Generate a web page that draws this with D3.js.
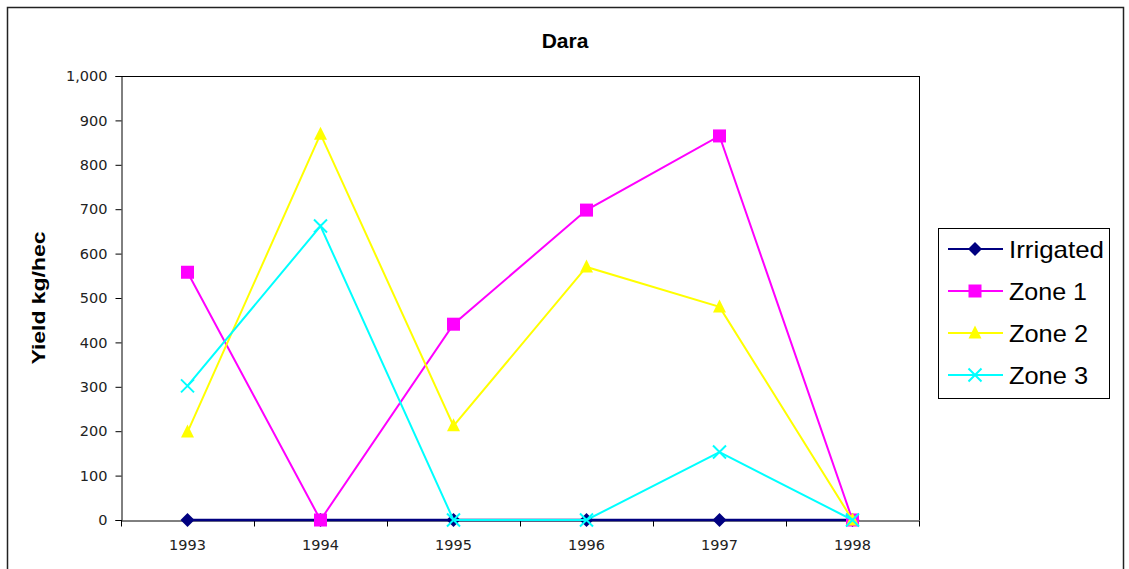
<!DOCTYPE html>
<html><head><meta charset="utf-8">
<script src="https://cdn.jsdelivr.net/npm/d3@7"></script>
<style>body{margin:0;background:#fff}svg{display:block}</style>
</head><body>
<script>
const years = ["1993","1994","1995","1996","1997","1998"];
const irrigated = [0,0,0,0,0,0];
const zone1 = [558,0,441,698,865,0];
const zone2 = [198,869,212,570,480,0];
const zone3 = [302,662,0,0,153,0];
const yTicks = [0,100,200,300,400,500,600,700,800,900,1000];
const seriesNames = ["Irrigated","Zone 1","Zone 2","Zone 3"];
const seriesColors = ["#000080","#FF00FF","#FFFF00","#00FFFF"];
const seriesSymbols = ["diamond","square","triangle","cross"];
const series = [irrigated, zone1, zone2, zone3];

const W=1129,H=569;
const svg=d3.select("body").append("svg").attr("width",W).attr("height",H);
svg.append("rect").attr("x",7.5).attr("y",7.5).attr("width",1116).attr("height",580)
  .attr("fill","#fff").attr("stroke","#222").attr("stroke-width",1.5);

const L=121,R=919,T=76,B=520;
const x=d3.scaleBand().domain(years).range([L,R]);
const y=d3.scaleLinear().domain([0,1000]).range([B,T]);

svg.append("line").attr("x1",L).attr("x2",R).attr("y1",T+0.5).attr("y2",T+0.5).attr("stroke","#000");
svg.append("line").attr("x1",R+0.5).attr("x2",R+0.5).attr("y1",T).attr("y2",B).attr("stroke","#000");

const tickFont="Verdana, 'DejaVu Sans', sans-serif";
const yAxis=svg.append("g").attr("transform",`translate(${L+0.5},0)`)
  .call(d3.axisLeft(y).tickValues(yTicks).tickSize(6).tickPadding(8).tickFormat(d3.format(",")));
yAxis.select(".domain").attr("stroke","#000");
yAxis.selectAll("text").attr("font-family",tickFont).attr("font-size","14.5px").attr("fill","#222");

const xAxis=svg.append("g").attr("transform",`translate(0,${B+0.5})`)
  .call(d3.axisBottom(x).tickSize(0).tickPadding(19));
xAxis.select(".domain").attr("stroke","#000");
xAxis.selectAll("text").attr("font-family",tickFont).attr("font-size","14.5px").attr("fill","#222");
const bounds=years.map(d=>x(d)).concat([R]);
xAxis.selectAll(".bt").data(bounds).enter().append("line")
  .attr("x1",d=>d+0.5).attr("x2",d=>d+0.5).attr("y1",0).attr("y2",6).attr("stroke","#000");

function marker(g,type,color){
  if(type==="diamond"){
    g.append("path").attr("d","M0,-7L7,0L0,7L-7,0Z").attr("fill",color);
  }else if(type==="square"){
    g.append("rect").attr("x",-6.5).attr("y",-6.5).attr("width",13).attr("height",13).attr("fill",color);
  }else if(type==="triangle"){
    g.append("path").attr("d","M0,-7.5L6.5,5.5L-6.5,5.5Z").attr("fill",color);
  }else{
    g.append("path").attr("d","M-6.5,-6.5L6.5,6.5M-6.5,6.5L6.5,-6.5").attr("stroke",color).attr("stroke-width",2).attr("fill","none");
  }
}

const line=d3.line().x((d,i)=>x(years[i])+x.bandwidth()/2).y(d=>y(d));
series.forEach((s,k)=>{
  svg.append("path").datum(s).attr("d",line).attr("fill","none")
    .attr("stroke",seriesColors[k]).attr("stroke-width",k===0?2.5:2);
  s.forEach((v,i)=>{
    const g=svg.append("g").attr("transform",`translate(${x(years[i])+x.bandwidth()/2},${y(v)})`);
    marker(g,seriesSymbols[k],seriesColors[k]);
  });
});

const arial="Arial, 'Liberation Sans', sans-serif";
svg.append("text").attr("x",565).attr("y",48).attr("text-anchor","middle")
  .attr("font-family",arial).attr("font-weight","bold").attr("font-size","21px").text("Dara");
svg.append("text").attr("transform","translate(45,298) rotate(-90)").attr("text-anchor","middle")
  .attr("font-family",arial).attr("font-weight","bold").attr("font-size","19px")
  .attr("textLength",133).attr("lengthAdjust","spacingAndGlyphs").text("Yield kg/hec");

const lg=svg.append("g");
lg.append("rect").attr("x",938.5).attr("y",228.5).attr("width",171).attr("height",170).attr("fill","#fff").attr("stroke","#000");
const legW=[95,78,79,79];
seriesNames.forEach((n,k)=>{
  const cy=249+k*42;
  lg.append("line").attr("x1",948).attr("x2",1003).attr("y1",cy).attr("y2",cy).attr("stroke",seriesColors[k]).attr("stroke-width",2);
  const g=lg.append("g").attr("transform",`translate(975,${cy})`);
  marker(g,seriesSymbols[k],seriesColors[k]);
  lg.append("text").attr("x",1009).attr("y",cy+8.5).attr("font-family",arial).attr("font-size","24px")
    .attr("textLength",legW[k]).attr("lengthAdjust","spacingAndGlyphs").text(n);
});
</script>
</body></html>
